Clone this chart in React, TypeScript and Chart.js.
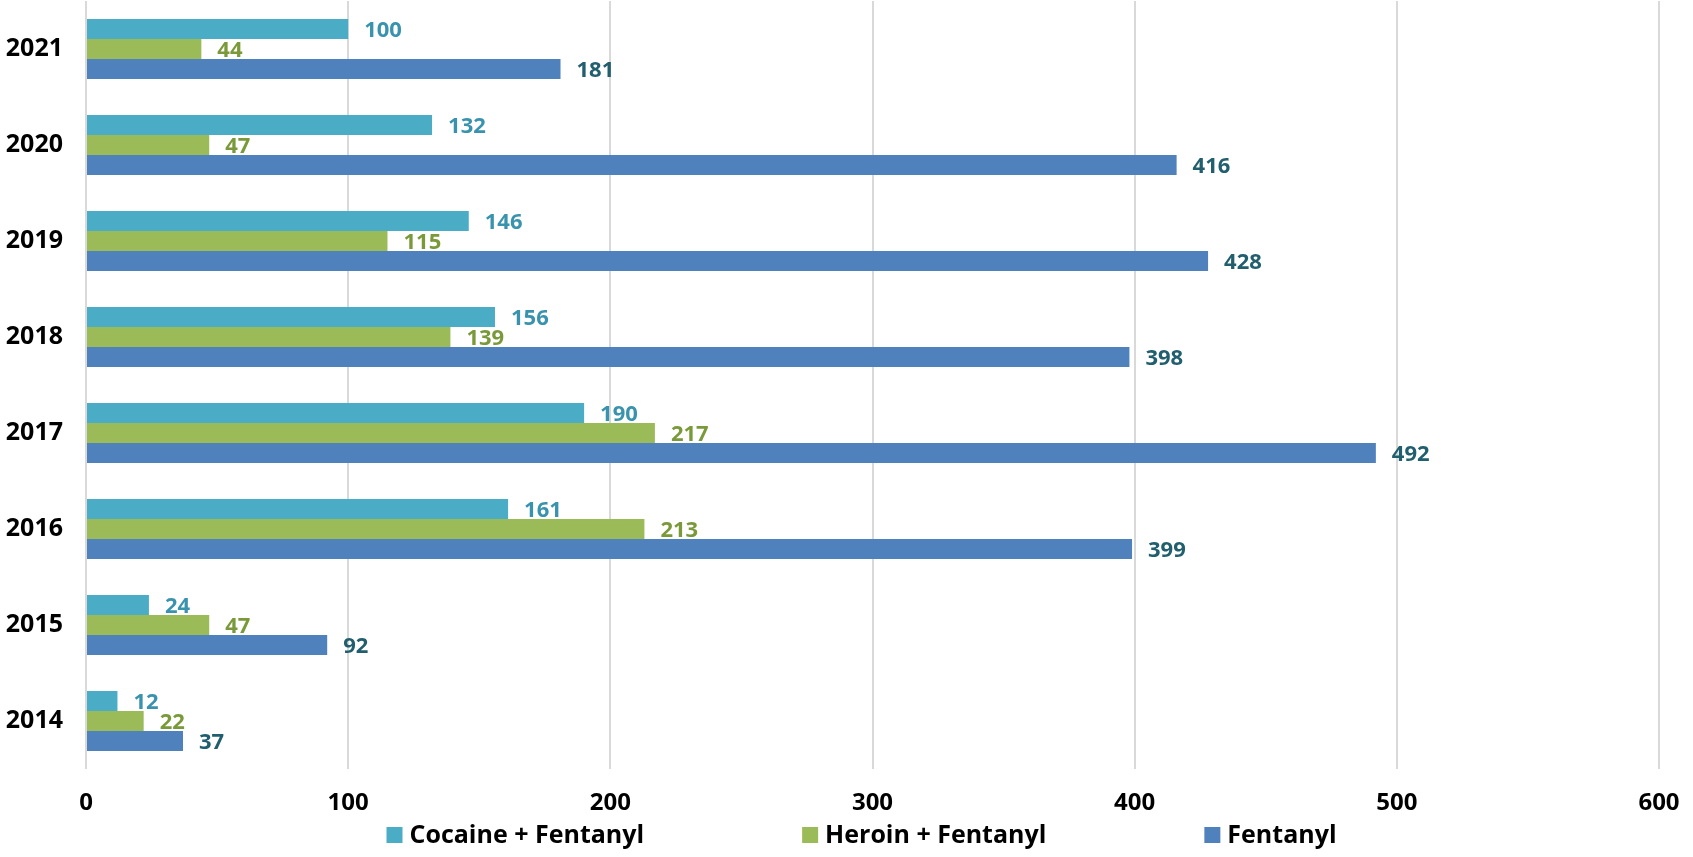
import React, { useEffect, useRef } from "react";
import { Chart, registerables } from "chart.js";

Chart.register(...registerables);

const years = ["2021", "2020", "2019", "2018", "2017", "2016", "2015", "2014"];
const cocaineFentanyl = [100, 132, 146, 156, 190, 161, 24, 12];
const heroinFentanyl = [44, 47, 115, 139, 217, 213, 47, 22];
const fentanylOnly = [181, 416, 428, 398, 492, 399, 92, 37];
const seriesNames = ["Cocaine + Fentanyl", "Heroin + Fentanyl", "Fentanyl"];
const barColors = ["#4BACC6", "#9BBB59", "#4F81BD"];
const labelColors = ["#3A93AE", "#7A9A3A", "#215E6E"];
const xMin = 0;
const xMax = 600;
const xStep = 100;

const FONT = "'Open Sans', 'Noto Sans', sans-serif";

const valueLabels = {
  id: "valueLabels",
  afterDatasetsDraw(chart: any) {
    const ctx = chart.ctx;
    ctx.save();
    ctx.font = `bold 22px ${FONT}`;
    ctx.textAlign = "left";
    ctx.textBaseline = "middle";
    chart.data.datasets.forEach((ds: any, di: number) => {
      const meta = chart.getDatasetMeta(di);
      ctx.fillStyle = labelColors[di];
      meta.data.forEach((el: any, i: number) => {
        ctx.fillText(String(ds.data[i]), el.x + 16, el.y + 2);
      });
    });
    ctx.restore();
  },
};

const bottomLegend = {
  id: "bottomLegend",
  afterDraw(chart: any) {
    const ctx = chart.ctx;
    ctx.save();
    ctx.font = `bold 25px ${FONT}`;
    ctx.textBaseline = "middle";
    ctx.textAlign = "left";
    const box = 16;
    const gap = 7;
    const itemGap = 158;
    const items = chart.data.datasets.map((ds: any) => ({
      text: ds.label,
      color: ds.backgroundColor,
      w: box + gap + ctx.measureText(ds.label).width,
    }));
    const total = items.reduce((s: number, it: any) => s + it.w, 0) + itemGap * (items.length - 1);
    const ca = chart.chartArea;
    const cx = (ca.left + ca.right) / 2 - 11;
    let x = cx - total / 2;
    const y = chart.height - 22;
    items.forEach((it: any) => {
      ctx.fillStyle = it.color;
      ctx.fillRect(x, y - box / 2, box, box);
      ctx.fillStyle = "#000000";
      ctx.fillText(it.text, x + box + gap, y + 1);
      x += it.w + itemGap;
    });
    ctx.restore();
  },
};

export default function App() {
  const canvasRef = useRef<HTMLCanvasElement | null>(null);

  useEffect(() => {
    if (!canvasRef.current) return;
    const chart = new Chart(canvasRef.current, {
      type: "bar",
      data: {
        labels: years,
        datasets: [
          { label: seriesNames[0], data: cocaineFentanyl, backgroundColor: barColors[0] },
          { label: seriesNames[1], data: heroinFentanyl, backgroundColor: barColors[1] },
          { label: seriesNames[2], data: fentanylOnly, backgroundColor: barColors[2] },
        ],
      },
      options: {
        indexAxis: "y",
        animation: false,
        responsive: true,
        maintainAspectRatio: false,
        datasets: {
          bar: { categoryPercentage: 0.625, barPercentage: 1.0, borderWidth: 0 },
        },
        layout: { padding: { top: 1, right: 34, left: 0, bottom: 0 } },
        plugins: {
          legend: { display: false },
          tooltip: { enabled: false },
        },
        scales: {
          x: {
            min: xMin,
            max: xMax,
            ticks: {
              stepSize: xStep,
              color: "#000000",
              font: { family: FONT, size: 24, weight: "bold" },
              padding: 20,
              maxRotation: 0,
            },
            grid: { color: "#D9D9D9", lineWidth: 2, drawTicks: false },
            border: { display: false },
            afterFit(scale: any) {
              scale.height = 88;
              scale.paddingLeft = 0;
              scale.paddingRight = 0;
            },
          },
          y: {
            ticks: {
              color: "#000000",
              font: { family: FONT, size: 25, weight: "bold" },
              padding: 23,
            },
            grid: { display: false, drawTicks: false },
            border: { display: false },
            afterFit(scale: any) {
              scale.width = 86;
              scale.paddingTop = 0;
              scale.paddingBottom = 0;
            },
          },
        },
      },
      plugins: [valueLabels, bottomLegend],
    });
    return () => chart.destroy();
  }, []);

  return (
    <div style={{ position: "absolute", left: 0, top: 0, width: 1693, height: 857, background: "#ffffff" }}>
      <canvas ref={canvasRef} />
    </div>
  );
}
